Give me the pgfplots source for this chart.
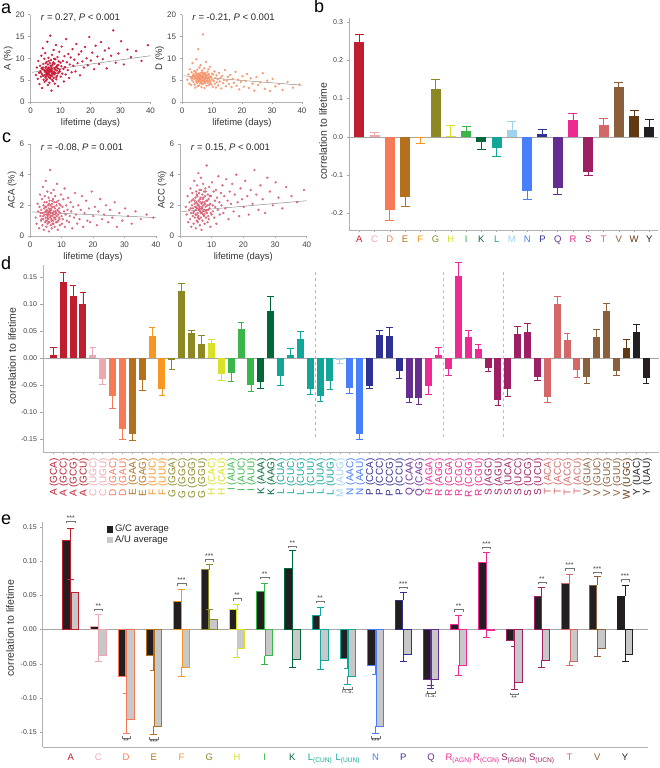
\documentclass[border=0pt]{standalone}
\usepackage{pgfplots}
\usepackage{pgfplotstable}
\pgfplotsset{compat=1.18}
\usepackage{fontspec}
\setmainfont{Liberation Sans}
\definecolor{cA}{RGB}{190,30,45}
\definecolor{cC}{RGB}{236,168,175}
\definecolor{cD}{RGB}{246,122,86}
\definecolor{cE}{RGB}{181,112,30}
\definecolor{cF}{RGB}{247,150,32}
\definecolor{cG}{RGB}{140,136,36}
\definecolor{cH}{RGB}{216,224,40}
\definecolor{cI}{RGB}{57,181,74}
\definecolor{cK}{RGB}{0,104,56}
\definecolor{cL}{RGB}{18,166,155}
\definecolor{cM}{RGB}{160,210,235}
\definecolor{cN}{RGB}{72,127,250}
\definecolor{cP}{RGB}{46,49,146}
\definecolor{cQ}{RGB}{102,45,145}
\definecolor{cR}{RGB}{236,42,145}
\definecolor{cS}{RGB}{158,31,99}
\definecolor{cT}{RGB}{212,104,104}
\definecolor{cV}{RGB}{139,94,60}
\definecolor{cW}{RGB}{96,57,19}
\definecolor{cY}{RGB}{35,31,32}
\definecolor{scA}{RGB}{200,20,50}
\definecolor{scD}{RGB}{245,150,110}
\definecolor{scC}{RGB}{218,95,115}
\definecolor{gcf}{RGB}{35,31,32}
\definecolor{auf}{RGB}{200,200,200}

\pgfplotstableread{
x A D ACA ACC
1.8 6.2 5.1 1.2 1.9
2.1 7.9 6.3 0.8 1.4
2.4 5.3 4.2 2.1 2.6
2.6 9.4 7.5 1.6 0.9
2.9 6.7 5.6 0.5 1.7
3.0 4.1 3.9 1.9 2.2
3.2 8.3 6.8 2.7 1.1
3.3 7.1 5.0 1.3 3.1
3.4 6.8 5.5 1.5 1.8
3.5 5.8 8.9 1.0 1.5
3.6 10.6 5.9 1.7 0.6
3.7 7.7 6.1 1.1 2.3
3.8 6.4 4.6 2.4 2.0
3.9 3.2 6.4 0.7 2.8
4.0 7.6 5.3 1.5 1.3
4.1 12.3 7.1 3.2 1.8
4.2 6.0 4.0 1.1 2.4
4.2 7.9 5.8 1.3 1.5
4.3 8.7 6.0 2.0 0.8
4.4 5.1 3.3 0.4 1.6
4.5 7.3 5.5 1.8 3.6
4.6 9.9 6.6 1.4 2.1
4.6 6.1 6.9 2.2 2.3
4.7 4.6 4.8 2.6 1.2
4.8 6.9 9.8 0.9 1.9
4.9 11.2 5.2 1.6 2.5
4.9 7.2 6.4 1.9 1.4
5.0 5.6 6.1 1.2 0.5
5.0 7.8 4.4 3.6 1.7
5.1 6.3 7.4 1.9 2.9
5.1 8.9 5.6 1.0 1.9
5.2 8.1 5.7 0.6 1.4
5.2 4.9 3.6 1.4 2.2
5.3 7.0 6.2 2.2 1.0
5.3 5.9 4.5 1.6 2.7
5.4 9.2 5.0 1.0 3.3
5.4 6.6 12.1 1.7 1.8
5.5 5.2 4.7 2.9 2.6
5.5 6.8 5.3 1.2 2.1
5.6 13.8 6.5 1.3 1.5
5.6 7.4 5.4 0.8 0.9
5.7 6.1 3.8 2.0 2.0
5.7 7.6 6.3 1.4 1.2
5.8 8.6 7.9 1.5 4.1
5.8 3.9 5.8 1.1 1.3
5.9 7.2 4.9 2.5 2.3
5.9 6.4 5.2 0.9 2.0
6.0 6.5 6.3 0.3 1.7
6.0 10.1 5.1 1.8 2.8
6.0 7.9 5.9 1.6 1.8
6.1 5.7 4.3 1.4 1.1
6.1 9.4 4.9 2.1 1.7
6.2 7.7 8.4 2.3 1.9
6.2 6.8 5.6 0.9 3.0
6.3 4.4 6.7 1.6 0.7
6.3 7.0 6.0 1.7 2.4
6.4 8.9 4.5 4.3 2.2
6.4 6.2 5.9 1.2 1.6
6.5 7.5 3.4 2.0 2.5
6.5 5.6 5.7 1.3 1.5
6.6 15.2 6.0 0.7 1.2
6.6 5.4 5.3 1.5 3.8
6.7 7.1 7.2 2.8 1.8
6.7 8.3 4.2 1.8 3.0
6.8 9.6 4.8 1.1 2.1
6.8 6.0 6.8 1.7 0.4
6.9 8.0 5.5 0.5 1.5
6.9 6.9 6.5 1.0 1.8
7.0 2.6 4.1 2.1 2.7
7.0 7.3 15.5 1.3 1.9
7.1 6.4 5.7 1.9 1.0
7.1 7.7 5.9 2.3 2.2
7.2 10.8 6.4 0.8 2.4
7.2 5.1 5.1 1.5 1.6
7.3 5.9 4.6 2.4 1.4
7.3 8.4 5.0 1.4 3.4
7.4 7.0 7.7 1.0 2.0
7.4 8.7 6.6 0.8 2.5
7.5 4.8 3.2 3.0 1.7
7.6 9.1 6.1 1.6 2.9
7.6 6.7 5.2 1.2 1.3
7.7 11.9 4.3 2.2 2.2
7.7 6.5 4.6 1.9 1.4
7.8 5.5 6.6 0.6 0.8
7.9 7.8 5.4 1.8 2.6
7.9 9.9 5.5 1.2 2.1
8.0 6.3 9.2 1.4 1.6
8.0 8.8 4.7 2.6 3.1
8.1 4.2 5.8 1.1 1.9
8.1 6.8 6.2 1.6 2.9
8.2 7.4 3.7 1.5 1.2
8.3 9.8 6.2 0.9 2.3
8.4 6.6 5.0 2.0 4.6
8.4 7.9 4.8 2.2 1.7
8.5 13.1 6.9 1.3 1.5
8.6 5.2 4.4 3.4 2.0
8.6 5.7 5.4 0.9 2.3
8.7 8.1 5.6 1.7 0.9
8.8 7.2 7.5 0.4 2.7
8.9 6.0 4.9 2.3 1.7
8.9 8.4 6.4 1.4 1.3
9.0 10.3 3.9 1.0 2.4
9.1 7.7 6.0 1.6 1.1
9.2 3.6 5.3 1.2 3.2
9.2 6.6 5.0 1.8 2.0
9.3 8.5 8.1 2.1 1.8
9.4 9.3 4.4 1.1 2.6
9.5 6.9 4.6 0.7 2.1
9.6 11.5 5.7 1.5 0.6
9.7 7.4 5.8 2.0 1.5
9.8 7.0 4.0 2.7 2.6
10.0 9.0 6.5 1.3 1.4
10.1 5.8 5.1 0.8 3.5
10.3 8.2 3.5 1.9 2.0
10.4 12.7 6.3 1.1 1.6
10.6 6.5 4.8 2.4 2.9
10.8 9.4 7.0 1.6 1.2
11.0 7.6 4.2 3.1 2.3
11.1 4.7 5.5 0.6 1.9
11.3 10.5 3.3 1.4 3.0
11.5 8.0 6.1 2.0 0.8
11.7 6.3 4.5 1.0 2.5
11.9 14.4 5.2 1.7 1.7
12.1 9.1 3.8 2.5 3.9
12.4 7.3 6.7 0.9 2.2
12.6 11.0 4.7 1.3 1.4
12.9 5.5 5.6 2.2 2.8
13.1 8.6 3.1 1.6 2.0
13.4 10.2 6.0 0.5 3.3
13.7 6.8 4.3 1.9 1.5
14.0 12.1 5.0 1.2 2.6
14.3 8.3 7.3 2.8 1.8
14.6 9.7 3.6 1.4 3.7
15.0 7.0 4.9 0.8 2.3
15.3 13.3 5.8 2.0 1.1
15.7 8.9 4.1 1.1 2.9
16.1 10.9 6.2 1.7 2.1
16.5 6.1 3.4 2.6 3.4
16.9 11.6 5.3 0.6 1.6
17.3 9.3 4.4 1.5 2.7
17.8 7.9 6.9 2.3 4.0
18.2 12.6 3.7 1.0 2.2
18.7 10.0 5.1 1.8 1.3
19.1 8.4 2.9 0.9 3.1
19.6 14.9 4.6 2.9 2.4
20.1 9.5 5.9 1.3 1.9
20.6 11.3 3.5 1.9 3.6
21.2 7.5 4.8 0.7 2.6
21.7 12.9 6.4 1.6 1.4
22.3 10.4 3.2 2.4 3.0
22.9 8.7 5.4 1.1 2.1
23.5 13.7 4.2 1.4 4.3
24.1 9.8 2.6 2.0 2.7
24.8 11.8 5.7 0.9 1.7
25.4 7.7 3.9 1.7 3.3
26.1 12.3 4.5 1.2 2.4
26.9 10.6 6.6 2.2 1.5
27.6 16.4 3.0 0.6 3.8
28.4 9.0 4.9 1.5 2.9
29.3 11.1 2.5 1.0 2.0
30.2 13.9 5.3 1.8 3.5
31.1 8.6 3.6 1.3 2.5
32.3 12.0 4.1 0.8 1.8
33.5 10.3 2.8 1.6 3.2
35.2 11.7 4.6 1.1 2.6
37.0 9.4 3.3 1.4 2.2
39.1 13.0 4.0 1.2 3.0
}\scat

\newcommand{\emsize}{3pt}
% bar with one-sided error bar: #1 extra opts, #2 colour, #3 dir, #4 x, #5 y, #6 err
\newcommand{\eb}[6]{\addplot[ybar, bar shift=0pt, draw=none, fill=#2, #1,
  error bars/.cd, y dir=#3, y explicit,
  error bar style={#2, line width=0.8pt},
  error mark options={#2, rotate=90, line width=0.8pt, mark size=\emsize}]
  coordinates {(#4,#5) +- (0,#6)};}
\newcommand{\bb}[5]{\eb{bar width=10pt}{#1}{#2}{#3}{#4}{#5}}
\newcommand{\db}[5]{\eb{bar width=7pt}{#1}{#2}{#3}{#4}{#5}}
\newcommand{\gc}[5]{\eb{bar width=7.4pt, bar shift=-4.15pt, fill=gcf, draw=#1, line width=0.9pt}{#1}{#2}{#3}{#4}{#5}}
\newcommand{\au}[5]{\eb{bar width=7.4pt, bar shift=4.15pt, fill=auf, draw=#1, line width=0.9pt}{#1}{#2}{#3}{#4}{#5}}
\newcommand{\sigu}[3]{\draw[black!55, line width=0.4pt] ([xshift=-4.15pt,yshift=-2pt]axis cs:#1,#2) -- ++(0pt,2pt) -- ++(8.3pt,0pt) -- ++(0pt,-2pt);
  \node[anchor=south, inner sep=0.6pt, font=\fontsize{7}{7}\selectfont, text=black!75] at (axis cs:#1,#2) {#3};}
\newcommand{\sigd}[3]{\draw[black!55, line width=0.4pt] ([xshift=-4.15pt,yshift=2pt]axis cs:#1,#2) -- ++(0pt,-2pt) -- ++(8.3pt,0pt) -- ++(0pt,2pt);
  \node[anchor=north, inner sep=0.6pt, font=\fontsize{7}{7}\selectfont, text=black!75] at (axis cs:#1,#2) {#3};}

\pgfplotsset{
  base/.style={scale only axis, axis lines=left,
    axis line style={-, draw=black!30, line width=0.6pt},
    tick style={draw=black!35, line width=0.5pt}, tick align=outside,
    major tick length=2.5pt,
    ticklabel style={font=\fontsize{7}{8}\selectfont, text=black!75},
    /pgf/number format/assume math mode=true, clip=false,
    label style={font=\fontsize{10.5}{12}\selectfont, text=black!80}},
  scat/.style={base, xmin=0, xmax=40, xtick={0,10,20,30,40},
    ticklabel style={font=\fontsize{8}{9}\selectfont},
    xlabel={lifetime (days)},
    label style={font=\fontsize{9.5}{11}\selectfont},
    xlabel style={yshift=2pt}, ylabel style={yshift=-4pt}},
  trend/.style={black!45, line width=0.5pt, no marks}
}
\newcommand{\ann}[1]{\node[anchor=west, inner sep=0pt, font=\fontsize{9.5}{11}\selectfont, text=black!85] at (rel axis cs:0.085,0.96) {#1};}

\begin{document}
\begin{tikzpicture}
\path[use as bounding box] (0pt,0pt) rectangle (659pt,768pt);
\tikzset{plab/.style={anchor=base west, inner sep=0pt, font=\fontsize{18}{18}\selectfont}}
\node[plab] at (1pt,754pt) {a};
\node[plab] at (314pt,755pt) {b};
\node[plab] at (2pt,625pt) {c};
\node[plab] at (1pt,498pt) {d};
\node[plab] at (1pt,243pt) {e};

% ---------- a left ----------
\begin{axis}[scat, at={(30.5pt,666pt)}, anchor=south west, width=120pt, height=87.3pt,
  ymin=0, ymax=20, ytick={0,5,10,15,20}, ylabel={A (\%)}]
\addplot[only marks, mark=*, mark size=0.95pt, color=scA, mark options={draw=none, fill=scA, fill opacity=0.75}] table[x=x, y=A] {\scat};
\addplot[trend] coordinates {(0.5,6.8) (40,10.6)};
\ann{\textit{r} = 0.27, \textit{P} < 0.001}
\end{axis}
% ---------- a right ----------
\begin{axis}[scat, at={(182pt,666pt)}, anchor=south west, width=120pt, height=87.3pt,
  ymin=0, ymax=20, ytick={0,5,10,15,20}, ylabel={D (\%)}]
\addplot[only marks, mark=*, mark size=0.95pt, color=scD, mark options={draw=none, fill=scD, fill opacity=0.8}] table[x=x, y=D] {\scat};
\addplot[trend] coordinates {(0.5,6.0) (40,3.85)};
\ann{\textit{r} = -0.21, \textit{P} < 0.001}
\end{axis}
% ---------- c left ----------
\begin{axis}[scat, at={(30pt,532pt)}, anchor=south west, width=126pt, height=92pt,
  ymin=0, ymax=6, ytick={0,2,4,6}, ylabel={ACA (\%)}]
\addplot[only marks, mark=*, mark size=0.95pt, color=scC, mark options={draw=none, fill=scC, fill opacity=0.75}] table[x=x, y=ACA] {\scat};
\addplot[trend] coordinates {(0.5,1.57) (40,1.2)};
\ann{\textit{r} = -0.08, \textit{P} = 0.001}
\end{axis}
% ---------- c right ----------
\begin{axis}[scat, at={(180pt,532pt)}, anchor=south west, width=126.7pt, height=92pt,
  ymin=0, ymax=6, ytick={0,2,4,6}, ylabel={ACC (\%)}]
\addplot[only marks, mark=*, mark size=0.95pt, color=scC, mark options={draw=none, fill=scC, fill opacity=0.75}] table[x=x, y=ACC] {\scat};
\addplot[trend] coordinates {(0.5,1.59) (40,2.3)};
\ann{\textit{r} = 0.15, \textit{P} < 0.001}
\end{axis}

% ---------- b ----------
\renewcommand{\emsize}{4.5pt}
\begin{axis}[base, at={(349pt,538pt)}, anchor=south west, width=309pt, height=212pt,
  xmin=-0.675, xmax=19.57, ymin=-0.243, ymax=0.31,
  ytick={-0.2,-0.1,0,0.1,0.2,0.3}, yticklabels={-0.2,-0.1,0.0,0.1,0.2,0.3},
  xtick={0,...,19},
  xticklabels={\textcolor{cA}{A},\textcolor{cC}{C},\textcolor{cD}{D},\textcolor{cE}{E},\textcolor{cF}{F},\textcolor{cG}{G},\textcolor{cH}{H},\textcolor{cI}{I},\textcolor{cK}{K},\textcolor{cL}{L},\textcolor{cM}{M},\textcolor{cN}{N},\textcolor{cP}{P},\textcolor{cQ}{Q},\textcolor{cR}{R},\textcolor{cS}{S},\textcolor{cT}{T},\textcolor{cV}{V},\textcolor{cW}{W},\textcolor{cY}{Y}},
  xticklabel style={font=\fontsize{9.5}{10}\selectfont},
  ylabel={correlation to lifetime},
  ylabel style={at={(axis description cs:-0.084,0.467)}, anchor=center}]
\draw[black!35, line width=0.6pt] (axis cs:-0.675,0) -- (axis cs:19.57,0);
\bb{cA}{plus}{0}{0.247}{0.019}
\bb{cC}{plus}{1}{0.005}{0.006}
\bb{cD}{minus}{2}{-0.190}{0.029}
\bb{cE}{minus}{3}{-0.156}{0.025}
\bb{cF}{minus}{4}{-0.003}{0.015}
\bb{cG}{plus}{5}{0.124}{0.026}
\bb{cH}{plus}{6}{0.003}{0.027}
\bb{cI}{plus}{7}{0.014}{0.012}
\bb{cK}{minus}{8}{-0.014}{0.018}
\bb{cL}{minus}{9}{-0.029}{0.022}
\bb{cM}{plus}{10}{0.018}{0.023}
\bb{cN}{minus}{11}{-0.140}{0.022}
\bb{cP}{plus}{12}{0.008}{0.011}
\bb{cQ}{minus}{13}{-0.134}{0.017}
\bb{cR}{plus}{14}{0.043}{0.017}
\bb{cS}{minus}{15}{-0.093}{0.008}
\bb{cT}{plus}{16}{0.031}{0.017}
\bb{cV}{plus}{17}{0.130}{0.012}
\bb{cW}{plus}{18}{0.055}{0.013}
\bb{cY}{plus}{19}{0.026}{0.020}
\end{axis}

% ---------- d ----------
\renewcommand{\emsize}{3.3pt}
\begin{axis}[base, at={(43pt,316pt)}, anchor=south west, width=616pt, height=187pt,
  xmin=-1.04, xmax=61.3, ymin=-0.1735, ymax=0.173,
  ytick={-0.15,-0.1,-0.05,0,0.05,0.1,0.15},
  yticklabels={-0.15,-0.10,-0.05,0.00,0.05,0.10,0.15},
  xtick={0,...,60},
  xticklabel style={rotate=90, anchor=east, font=\fontsize{10}{11}\selectfont, yshift=-1pt},
  xticklabels={\textcolor{cA}{A (GCA)},\textcolor{cA}{A (GCC)},\textcolor{cA}{A (GCG)},\textcolor{cA}{A (GCU)},\textcolor{cC}{C (UGC)},\textcolor{cC}{C (UGU)},\textcolor{cD}{D (GAC)},\textcolor{cD}{D (GAU)},\textcolor{cE}{E (GAA)},\textcolor{cE}{E (GAG)},\textcolor{cF}{F (UUC)},\textcolor{cF}{F (UUU)},\textcolor{cG}{G (GGA)},\textcolor{cG}{G (GGC)},\textcolor{cG}{G (GGG)},\textcolor{cG}{G (GGU)},\textcolor{cH}{H (CAC)},\textcolor{cH}{H (CAU)},\textcolor{cI}{I (AUA)},\textcolor{cI}{I (AUC)},\textcolor{cI}{I (AUU)},\textcolor{cK}{K (AAA)},\textcolor{cK}{K (AAG)},\textcolor{cL}{L (CUA)},\textcolor{cL}{L (CUC)},\textcolor{cL}{L (CUG)},\textcolor{cL}{L (CUU)},\textcolor{cL}{L (UUA)},\textcolor{cL}{L (UUG)},\textcolor{cM}{M (AUG)},\textcolor{cN}{N (AAC)},\textcolor{cN}{N (AAU)},\textcolor{cP}{P (CCA)},\textcolor{cP}{P (CCC)},\textcolor{cP}{P (CCG)},\textcolor{cP}{P (CCU)},\textcolor{cQ}{Q (CAA)},\textcolor{cQ}{Q (CAG)},\textcolor{cR}{R (AGA)},\textcolor{cR}{R (AGG)},\textcolor{cR}{R (CGA)},\textcolor{cR}{R (CGC)},\textcolor{cR}{R (CGG)},\textcolor{cR}{R (CGU)},\textcolor{cS}{S (AGC)},\textcolor{cS}{S (AGU)},\textcolor{cS}{S (UCA)},\textcolor{cS}{S (UCC)},\textcolor{cS}{S (UCG)},\textcolor{cS}{S (UCU)},\textcolor{cT}{T (ACA)},\textcolor{cT}{T (ACC)},\textcolor{cT}{T (ACG)},\textcolor{cT}{T (ACU)},\textcolor{cV}{V (GUA)},\textcolor{cV}{V (GUC)},\textcolor{cV}{V (GUG)},\textcolor{cV}{V (GUU)},\textcolor{cW}{W (UGG)},\textcolor{cY}{Y (UAC)},\textcolor{cY}{Y (UAU)}},
  ylabel={correlation to lifetime},
  ylabel style={at={(axis description cs:-0.050,0.513)}, anchor=center}]
\draw[black!35, line width=0.6pt] (axis cs:-1.04,0) -- (axis cs:61.3,0);
\draw[cL!55, dashed, line width=0.6pt] (axis cs:26.5,0.16) -- (axis cs:26.5,-0.15);
\draw[cR!45, dashed, line width=0.6pt] (axis cs:39.5,0.16) -- (axis cs:39.5,-0.15);
\draw[cR!45, dashed, line width=0.6pt] (axis cs:45.5,0.16) -- (axis cs:45.5,-0.15);
\db{cA}{plus}{0}{0.006}{0.015}
\db{cA}{plus}{1}{0.141}{0.018}
\db{cA}{plus}{2}{0.115}{0.020}
\db{cA}{plus}{3}{0.101}{0.022}
\db{cC}{plus}{4}{0.006}{0.014}
\db{cC}{minus}{5}{-0.038}{0.010}
\db{cD}{minus}{6}{-0.069}{0.024}
\db{cD}{minus}{7}{-0.130}{0.020}
\db{cE}{minus}{8}{-0.141}{0.011}
\db{cE}{minus}{9}{-0.040}{0.019}
\db{cF}{plus}{10}{0.041}{0.016}
\db{cF}{minus}{11}{-0.056}{0.013}
\db{cG}{minus}{12}{-0.003}{0.018}
\db{cG}{plus}{13}{0.125}{0.013}
\db{cG}{plus}{14}{0.0475}{0.0045}
\db{cG}{plus}{15}{0.027}{0.016}
\db{cH}{plus}{16}{0.029}{0.007}
\db{cH}{minus}{17}{-0.029}{0.011}
\db{cI}{minus}{18}{-0.028}{0.014}
\db{cI}{plus}{19}{0.054}{0.013}
\db{cI}{minus}{20}{-0.049}{0.013}
\db{cK}{minus}{21}{-0.044}{0.012}
\db{cK}{plus}{22}{0.088}{0.026}
\db{cL}{minus}{23}{-0.033}{0.017}
\db{cL}{plus}{24}{0.007}{0.011}
\db{cL}{plus}{25}{0.035}{0.015}
\db{cL}{minus}{26}{-0.057}{0.009}
\db{cL}{minus}{27}{-0.069}{0.010}
\db{cL}{minus}{28}{-0.042}{0.015}
\db{cM}{minus}{29}{-0.003}{0.007}
\db{cN}{minus}{30}{-0.054}{0.011}
\db{cN}{minus}{31}{-0.141}{0.010}
\db{cP}{minus}{32}{-0.051}{0.005}
\db{cP}{plus}{33}{0.043}{0.009}
\db{cP}{plus}{34}{0.042}{0.015}
\db{cP}{minus}{35}{-0.023}{0.015}
\db{cQ}{minus}{36}{-0.073}{0.008}
\db{cQ}{minus}{37}{-0.073}{0.012}
\db{cR}{minus}{38}{-0.052}{0.015}
\db{cR}{plus}{39}{0.007}{0.013}
\db{cR}{minus}{40}{-0.019}{0.012}
\db{cR}{plus}{41}{0.153}{0.024}
\db{cR}{plus}{42}{0.040}{0.011}
\db{cR}{plus}{43}{0.017}{0.009}
\db{cS}{minus}{44}{-0.017}{0.008}
\db{cS}{minus}{45}{-0.077}{0.011}
\db{cS}{minus}{46}{-0.057}{0.014}
\db{cS}{plus}{47}{0.045}{0.014}
\db{cS}{plus}{48}{0.049}{0.015}
\db{cS}{minus}{49}{-0.035}{0.005}
\db{cT}{minus}{50}{-0.071}{0.010}
\db{cT}{plus}{51}{0.101}{0.014}
\db{cT}{plus}{52}{0.034}{0.012}
\db{cT}{minus}{53}{-0.022}{0.014}
\db{cV}{minus}{54}{-0.034}{0.012}
\db{cV}{plus}{55}{0.040}{0.013}
\db{cV}{plus}{56}{0.088}{0.013}
\db{cV}{minus}{57}{-0.023}{0.008}
\db{cW}{plus}{58}{0.019}{0.016}
\db{cY}{plus}{59}{0.048}{0.015}
\db{cY}{minus}{60}{-0.037}{0.009}
\end{axis}

% ---------- e ----------
\renewcommand{\emsize}{3.5pt}
\begin{axis}[base, at={(42.7pt,20.7pt)}, anchor=south west, width=605.3pt, height=225.3pt,
  xmin=-1.01, xmax=20.83, ymin=-0.172, ymax=0.157,
  ytick={-0.15,-0.1,-0.05,0,0.05,0.1,0.15},
  yticklabels={-0.15,-0.10,-0.05,0.00,0.05,0.10,0.15},
  xtick={0,...,20}, xtick style={draw=none},
  xticklabel style={font=\fontsize{9.5}{10}\selectfont, anchor=base, yshift=-11pt},
  xticklabels={\textcolor{cA}{A},\textcolor{cC}{C},\textcolor{cD}{D},\textcolor{cE}{E},\textcolor{cF}{F},\textcolor{cG}{G},\textcolor{cH}{H},\textcolor{cI}{I},\textcolor{cK}{K},\textcolor{cL}{L\textsubscript{(CUN)}},\textcolor{cL}{L\textsubscript{(UUN)}},\textcolor{cN}{N},\textcolor{cP}{P},\textcolor{cQ}{Q},\textcolor{cR}{R\textsubscript{(AGN)}},\textcolor{cR}{R\textsubscript{(CGN)}},\textcolor{cS}{S\textsubscript{(AGN)}},\textcolor{cS}{S\textsubscript{(UCN)}},\textcolor{cT}{T},\textcolor{cV}{V},\textcolor{cY}{Y}},
  ylabel={correlation to lifetime},
  ylabel style={at={(axis description cs:-0.054,0.53)}, anchor=center}]
\draw[black!35, line width=0.6pt] (axis cs:-1.01,0) -- (axis cs:20.83,0);
\gc{cA}{plus}{0}{0.130}{0.018}   \au{cA}{plus}{0}{0.054}{0.019}
\gc{cC}{plus}{1}{0.005}{0.017}   \au{cC}{minus}{1}{-0.038}{0.009}
\gc{cD}{minus}{2}{-0.068}{0.026} \au{cD}{minus}{2}{-0.131}{0.020}
\gc{cE}{minus}{3}{-0.038}{0.021} \au{cE}{minus}{3}{-0.141}{0.012}
\gc{cF}{plus}{4}{0.041}{0.018}   \au{cF}{minus}{4}{-0.055}{0.014}
\gc{cG}{plus}{5}{0.087}{0.008}   \au{cG}{plus}{5}{0.014}{0.016}
\gc{cH}{plus}{6}{0.029}{0.008}   \au{cH}{minus}{6}{-0.028}{0.012}
\gc{cI}{plus}{7}{0.055}{0.013}   \au{cI}{minus}{7}{-0.038}{0.013}
\gc{cK}{plus}{8}{0.089}{0.026}   \au{cK}{minus}{8}{-0.043}{0.013}
\gc{cL}{plus}{9}{0.020}{0.013}   \au{cL}{minus}{9}{-0.045}{0.013}
\gc{cL}{minus}{10}{-0.042}{0.015} \au{cL}{minus}{10}{-0.068}{0.012}
\gc{cN}{minus}{11}{-0.052}{0.014} \au{cN}{minus}{11}{-0.141}{0.010}
\gc{cP}{plus}{12}{0.043}{0.011}  \au{cP}{minus}{12}{-0.036}{0.010}
\gc{cQ}{minus}{13}{-0.073}{0.013} \au{cQ}{minus}{13}{-0.073}{0.009}
\gc{cR}{plus}{14}{0.007}{0.013}  \au{cR}{minus}{14}{-0.052}{0.015}
\gc{cR}{plus}{15}{0.098}{0.015}  \au{cR}{minus}{15}{-0.002}{0.009}
\gc{cS}{minus}{16}{-0.016}{0.009} \au{cS}{minus}{16}{-0.077}{0.011}
\gc{cS}{plus}{17}{0.048}{0.013}  \au{cS}{minus}{17}{-0.045}{0.010}
\gc{cT}{plus}{18}{0.067}{0.013}  \au{cT}{minus}{18}{-0.046}{0.007}
\gc{cV}{plus}{19}{0.065}{0.012}  \au{cV}{minus}{19}{-0.028}{0.011}
\gc{cY}{plus}{20}{0.049}{0.016}  \au{cY}{minus}{20}{-0.036}{0.010}
\sigu{0}{0.158}{***}
\sigu{1}{0.030}{**}
\sigd{2}{-0.158}{**}
\sigd{3}{-0.160}{***}
\sigu{4}{0.067}{***}
\sigu{5}{0.102}{***}
\sigu{6}{0.045}{**}
\sigu{7}{0.076}{**}
\sigu{8}{0.122}{**}
\sigu{9}{0.041}{**}
\sigd{10}{-0.087}{n.s.}
\sigd{11}{-0.158}{***}
\sigu{12}{0.062}{***}
\sigd{13}{-0.093}{n.s.}
\sigu{14}{0.029}{**}
\sigu{15}{0.120}{***}
\sigd{16}{-0.095}{**}
\sigu{17}{0.069}{**}
\sigu{18}{0.089}{***}
\sigu{19}{0.084}{***}
\sigu{20}{0.073}{***}
% legend
\fill[gcf] ([xshift=-3.2pt,yshift=-3.2pt]rel axis cs:0.111,0.967) rectangle ++(6.4pt,6.4pt);
\fill[auf] ([xshift=-3.2pt,yshift=-3.2pt]rel axis cs:0.111,0.920) rectangle ++(6.4pt,6.4pt);
\node[anchor=west, inner sep=0pt, font=\fontsize{9.5}{10}\selectfont, text=black!85] at ([xshift=5pt]rel axis cs:0.111,0.967) {G/C average};
\node[anchor=west, inner sep=0pt, font=\fontsize{9.5}{10}\selectfont, text=black!85] at ([xshift=5pt]rel axis cs:0.111,0.920) {A/U average};
\end{axis}
\end{tikzpicture}
\end{document}
